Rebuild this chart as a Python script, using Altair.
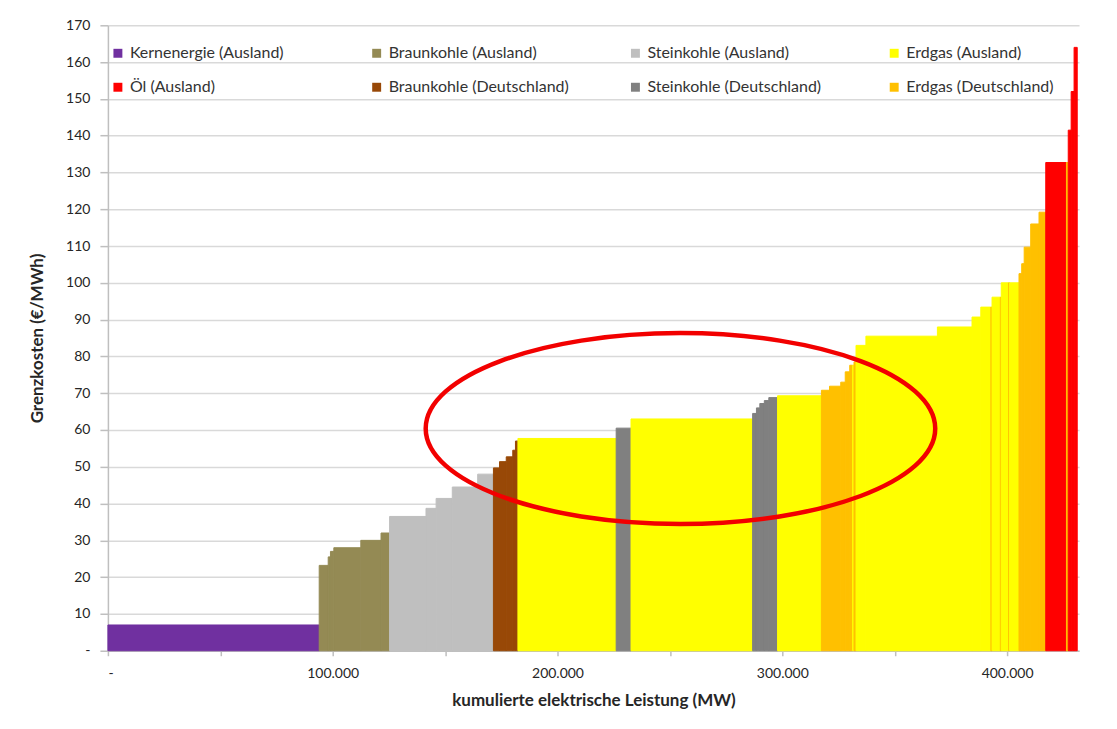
import altair as alt
import pandas as pd

# ---------------- data ----------------
KE = "Kernenergie (Ausland)"
BA = "Braunkohle (Ausland)"
SA = "Steinkohle (Ausland)"
EA = "Erdgas (Ausland)"
OA = "Öl (Ausland)"
BD = "Braunkohle (Deutschland)"
SD = "Steinkohle (Deutschland)"
ED = "Erdgas (Deutschland)"

categories = [KE, BA, SA, EA, OA, BD, SD, ED]
category_colors = ["#7030A0", "#948A54", "#BFBFBF", "#FFFF00",
                   "#FF0000", "#984807", "#808080", "#FFC000"]

# each block of the merit order: category, cumulative MW at its right end, marginal cost
seg_cat = [KE,
           BA, BA, BA, BA, BA, BA,
           SA, SA, SA, SA, SA,
           BD, BD, BD, BD, BD,
           EA, SD, EA,
           SD, SD, SD, SD, SD,
           EA,
           ED, ED, ED, ED, ED,
           EA, ED, EA, EA, EA, EA, EA, ED, EA, ED, EA, ED, EA,
           ED, ED, ED, ED, ED,
           OA, ED, OA, OA, OA]
seg_end_mw = [94000,
              98000, 99000, 100500, 112500, 121500, 125300,
              141500, 146000, 153200, 164500, 171500,
              174200, 177200, 180100, 181300, 182400,
              226100, 232700, 286800,
              288500, 290000, 292000, 294000, 297900,
              317400,
              321000, 326000, 328000, 330000, 331300,
              331900, 332800, 337200, 369000, 384400, 388300, 392800, 393300, 397000, 397400, 400700, 401100, 405300,
              406500, 407600, 410500, 414200, 417200,
              426400, 427200, 428500, 429800, 431200]
seg_price = [7.0,
             23.2, 25.5, 27.0, 28.0, 30.0, 32.0,
             36.5, 38.7, 41.4, 44.5, 48.0,
             49.7, 51.4, 52.7, 54.5, 57.0,
             57.7, 60.5, 63.0,
             64.5, 66.0, 67.2, 68.0, 68.8,
             69.3,
             70.8, 71.9, 73.0, 75.8, 77.6,
             77.6, 78.5, 83.0, 85.5, 88.0, 90.7, 93.4, 93.4, 96.1, 96.1, 100.0, 100.0, 100.0,
             102.5, 105.2, 109.7, 116.0, 119.2,
             132.7, 132.7, 141.5, 152.0, 164.0]

# red ellipse annotation (centre in data units)
ellipse_mw = [254700]
ellipse_price = [60.4]

x_tick_values = [0, 50000, 100000, 150000, 200000, 250000, 300000, 350000, 400000]
y_tick_values = list(range(0, 171, 10))

# ---------------- tables ----------------
seg_start_mw = [0] + seg_end_mw[:-1]
blocks = pd.DataFrame({
    "Kategorie": seg_cat,
    "start": seg_start_mw,
    "ende": seg_end_mw,
    "preis": seg_price,
})
ell = pd.DataFrame({"start": ellipse_mw, "preis": ellipse_price})

FONT = "Lato"
W, H = 972, 626

xscale = alt.Scale(domain=[0, 432000], nice=False, zero=True)
yscale = alt.Scale(domain=[0, 170], nice=False)
cscale = alt.Scale(domain=categories, range=category_colors)

xaxis = alt.Axis(values=x_tick_values, grid=False,
                 labelExpr="datum.value == 0 ? '-' : (datum.value % 100000 == 0 ? format(datum.value / 1000, 'd') + '.000' : '')",
                 labelOverlap=False, tickSize=5, labelPadding=11,
                 title="kumulierte elektrische Leistung (MW)",
                 titleY=50, titleBaseline="middle")
yaxis = alt.Axis(values=y_tick_values, grid=True, labelOverlap=False,
                 labelExpr="datum.value == 0 ? '-' : datum.label",
                 tickSize=8, labelPadding=10,
                 title="Grenzkosten (€/MWh)",
                 titleX=-70, titleY=H / 2, titleAngle=270,
                 titleAlign="center", titleBaseline="middle")

bars = alt.Chart(blocks).mark_rect(strokeWidth=1).encode(
    x=alt.X("start:Q", scale=xscale, axis=xaxis),
    x2="ende:Q",
    y=alt.Y("preis:Q", scale=yscale, axis=yaxis),
    y2=alt.datum(0),
    color=alt.Color("Kategorie:N", scale=cscale, sort=categories,
                    legend=alt.Legend(title=None, orient="none", legendX=2, legendY=20,
                                      direction="horizontal", columns=4,
                                      symbolType="square", symbolSize=80,
                                      symbolStrokeWidth=0, gridAlign="all",
                                      columnPadding=58, rowPadding=18,
                                      labelFont=FONT, labelFontSize=16,
                                      labelColor="#333333", labelOffset=4,
                                      labelLimit=300)),
    stroke=alt.Stroke("Kategorie:N", scale=cscale, legend=None),
)

ellipse = alt.Chart(ell).mark_point(
    shape="M -1 0 A 1 0.3745 0 1 0 1 0 A 1 0.3745 0 1 0 -1 0 Z",
    size=260100, filled=False, stroke="#F20000", strokeWidth=4.5, opacity=1,
).encode(
    x=alt.X("start:Q", scale=xscale, axis=xaxis),
    y=alt.Y("preis:Q", scale=yscale, axis=yaxis),
)

chart = alt.layer(bars, ellipse).properties(
    width=W, height=H,
    autosize=alt.AutoSizeParams(type="none"),
    padding={"left": 100, "top": 17, "right": 30, "bottom": 60},
).configure_view(stroke=None).configure_axis(
    labelFont=FONT, titleFont=FONT, labelFontSize=14, titleFontSize=17,
    labelColor="#262626", titleColor="#262626", titleFontWeight="bold",
    gridColor="#D9D9D9", gridWidth=1.5, domainColor="#BFBFBF", domainWidth=1.5,
    tickColor="#BFBFBF", tickWidth=1.5,
)

chart.save("out.html", embed_options={"renderer": "svg", "actions": False})
